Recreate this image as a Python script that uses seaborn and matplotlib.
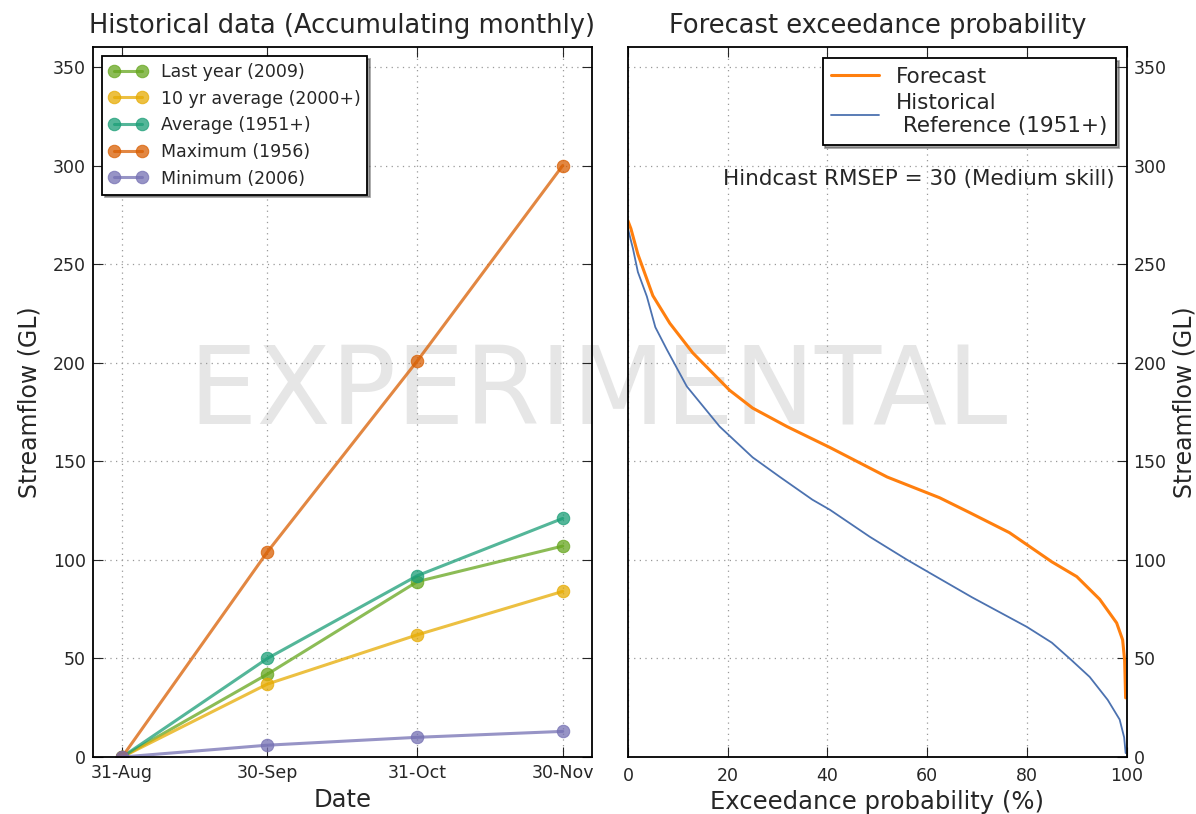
import matplotlib
matplotlib.use("Agg")
import matplotlib.pyplot as plt
import seaborn as sns

# historical accumulation (days since 31-Aug)
days = [0, 30, 61, 91]
day_labels = ["31-Aug", "30-Sep", "31-Oct", "30-Nov"]
last_year = [0, 42, 89, 107]
ten_yr_avg = [0, 37, 62, 84]
average = [0, 50, 92, 121]
maximum = [0, 104, 201, 300]
minimum = [0, 6, 10, 13]
hist_names = ["Last year (2009)", "10 yr average (2000+)", "Average (1951+)",
              "Maximum (1956)", "Minimum (2006)"]
hist_colors = ["#66a61e", "#e6ab02", "#1b9e77", "#d95f02", "#7570b3"]

# exceedance curves
fc_prob = [0, 0.6, 2, 5, 8.4, 13, 20.4, 25, 31.9, 40.5, 52, 62.5, 68.5, 76.5,
           85, 90, 94.6, 98, 99.2, 99.6, 99.8]
fc_flow = [272, 268, 255, 234, 220, 205, 186, 177, 167.6, 157, 142, 131.5, 124,
           113.8, 99, 91.5, 80, 68, 59.4, 49, 30]
hs_prob = [0, 1, 2, 3.8, 5.5, 7.8, 11.8, 18.4, 25, 30.5, 37, 40.5, 48.5, 56,
           60.5, 69, 80, 85, 89, 92.6, 96.2, 98.6, 99.5, 99.8]
hs_flow = [268, 258, 246, 233.6, 218, 206.7, 188, 167.6, 152, 142, 130.5, 125.4,
           111.7, 100, 93.4, 81, 66, 58, 49, 40.6, 29, 19, 10, 2]

sns.set_style("ticks")
plt.rcParams["font.family"] = ["DejaVu Sans"]
plt.rcParams["xtick.direction"] = "in"
plt.rcParams["ytick.direction"] = "in"
plt.rcParams["xtick.major.size"] = 7
plt.rcParams["ytick.major.size"] = 7
plt.rcParams["axes.edgecolor"] = "black"
plt.rcParams["axes.linewidth"] = 1.3

fig = plt.figure(figsize=(11.96, 8.14), dpi=100)
fig.text(0.5, 0.515, "EXPERIMENTAL", fontsize=78, color="#e6e6e6",
         ha="center", va="center", zorder=-1)

ax1 = fig.add_axes([0.0778, 0.070, 0.417, 0.872])
ax2 = fig.add_axes([0.525, 0.070, 0.417, 0.872])
for ax in (ax1, ax2):
    ax.set_facecolor("none")
    ax.grid(True, color="#999999", linestyle=(0, (1, 3.5)), linewidth=0.9)

# left panel
series = [last_year, ten_yr_avg, average, maximum, minimum]
for vals, name, col in zip(series, hist_names, hist_colors):
    sns.lineplot(x=days, y=vals, ax=ax1, color=col, marker="o", markersize=9,
                 markeredgecolor=col, linewidth=2.2, alpha=0.75, label=name)
ax1.set_xlim(-6, 97)
ax1.set_ylim(0, 360)
ax1.set_xticks(days)
ax1.set_xticklabels(day_labels)
ax1.set_yticks(range(0, 351, 50))
ax1.tick_params(labelsize=12.5, top=True, right=True, pad=5)
ax1.set_xlabel("Date", fontsize=17.5)
ax1.set_ylabel("Streamflow (GL)", fontsize=17, labelpad=8)
ax1.set_title("Historical data (Accumulating monthly)", fontsize=18.5, pad=10)
leg1 = ax1.legend(loc="upper left", numpoints=2, fontsize=12.5, shadow=True,
                  framealpha=1, fancybox=False, borderaxespad=0.5,
                  handlelength=2.2, labelspacing=0.5)
leg1.get_frame().set_edgecolor("black")
leg1.get_frame().set_linewidth(1.3)

# right panel
sns.lineplot(x=fc_prob, y=fc_flow, ax=ax2, color="#ff7f0e", linewidth=2.2,
             sort=False, label="Forecast")
sns.lineplot(x=hs_prob, y=hs_flow, ax=ax2, color="#4c72b0", linewidth=1.3,
             sort=False, label="Historical\n Reference (1951+)")
ax2.set_xlim(0, 100)
ax2.set_ylim(0, 360)
ax2.set_yticks(range(0, 351, 50))
ax2.yaxis.tick_right()
ax2.yaxis.set_label_position("right")
ax2.tick_params(labelsize=12.5, top=True, left=False, pad=5)
ax2.tick_params(axis="x", pad=7)
ax2.set_xlabel("Exceedance probability (%)", fontsize=17.5)
ax2.set_ylabel("Streamflow (GL)", fontsize=17, labelpad=4)
ax2.set_title("Forecast exceedance probability", fontsize=18.5, pad=10)
ax2.text(97.5, 293, "Hindcast RMSEP = 30 (Medium skill)", fontsize=15.5,
         ha="right", va="center")
leg2 = ax2.legend(loc="upper right", fontsize=15.5, shadow=True, framealpha=1,
                  fancybox=False, borderaxespad=0.5, handlelength=2.2,
                  labelspacing=0.3)
leg2.get_frame().set_edgecolor("black")
leg2.get_frame().set_linewidth(1.3)

fig.savefig("out.png", dpi=100)
